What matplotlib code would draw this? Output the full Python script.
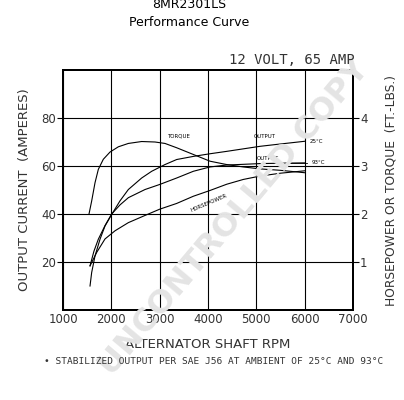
import matplotlib
matplotlib.use("Agg")
import matplotlib.pyplot as plt

# Output current (A) vs rpm
out25_rpm = [1559, 1593, 1662, 1766, 1869, 2007, 2180, 2352, 2628, 2835, 3110, 3352, 3697, 4041, 4387, 5076, 5600, 6000]
out25_amp = [10, 15.6, 22.5, 29.5, 35, 39.8, 45.5, 50.2, 55, 57.8, 60.6, 62.7, 64, 65.1, 66.1, 68.2, 69.4, 70.3]
out93_rpm = [1559, 1640, 1731, 1870, 2007, 2180, 2352, 2697, 3000, 3352, 3697, 4041, 4387, 5076, 5600, 6000]
out93_amp = [18.4, 24.5, 29.5, 35.2, 40, 43.8, 46.8, 50.2, 52.3, 55, 57.8, 59.6, 60.4, 61.0, 61.2, 61.3]
# Horsepower and torque (right axis)
hp_rpm = [1559, 1697, 1869, 2076, 2352, 2697, 3000, 3352, 3697, 4041, 4387, 4731, 5076, 5500, 6000]
hp_val = [0.92, 1.2, 1.48, 1.65, 1.82, 1.97, 2.1, 2.22, 2.37, 2.49, 2.62, 2.72, 2.79, 2.85, 2.9]
tq_rpm = [1538, 1593, 1662, 1731, 1834, 1972, 2145, 2352, 2628, 2903, 3110, 3352, 3697, 4041, 4387, 4731, 5076, 5500, 6000]
tq_val = [2.0, 2.27, 2.65, 2.93, 3.14, 3.29, 3.40, 3.47, 3.51, 3.50, 3.47, 3.38, 3.24, 3.10, 3.03, 2.98, 2.94, 2.91, 2.86]

x_ticks = [1000, 2000, 3000, 4000, 5000, 6000, 7000]
y_ticks = [20, 40, 60, 80]
y2_ticks = [1, 2, 3, 4]

fig = plt.figure(figsize=(4.04, 4.0), dpi=100)
ax = fig.add_axes([63/404, 90/400, 290/404, 240/400])
ax.set_xlim(1000, 7000)
ax.set_ylim(0, 100)
ax2 = ax.twinx()
ax2.set_ylim(0, 5)

fig.text(235/404, 1 - 218/400, "UNCONTROLLED COPY", ha="center", va="center", fontsize=23,
         fontweight="bold", rotation=50, color="#e4e4e4", family="DejaVu Sans", zorder=0)

tf = dict(family="DejaVu Sans", fontsize=8.5, color="#333333")
ax.set_xticks(x_ticks)
ax.set_xticklabels([str(v) for v in x_ticks], **tf)
ax.set_yticks(y_ticks)
ax.set_yticklabels([str(v) for v in y_ticks], **tf)
ax2.set_yticks(y2_ticks)
ax2.set_yticklabels([str(v) for v in y2_ticks], **tf)
ax.tick_params(axis="x", length=0, pad=2)
ax.tick_params(axis="y", length=4, width=0.8, pad=1)
ax2.tick_params(axis="y", length=4, width=0.8, pad=1)
ax.grid(True, color="black", linewidth=0.8)
ax.patch.set_alpha(0)
for s in ax.spines.values():
    s.set_linewidth(1.4)
for s in ax2.spines.values():
    s.set_linewidth(1.4)

lw = 0.8
ax.plot(out25_rpm, out25_amp, color="black", lw=lw)
ax.plot(out93_rpm, out93_amp, color="black", lw=lw)
ax2.plot(hp_rpm, hp_val, color="black", lw=lw)
ax2.plot(tq_rpm, tq_val, color="black", lw=lw)

sf = dict(fontsize=4, color="black", family="DejaVu Sans")
ax.text(3390, 72.6, "TORQUE", ha="center", va="center", **sf)
ax.text(5180, 72.2, "OUTPUT", ha="center", va="center", **sf)
ax.text(6100, 70.3, "25°C", ha="left", va="center", **sf)
ax.text(5230, 63.2, "OUTPUT", ha="center", va="center", **sf)
ax.plot([5650, 6050], [61.3, 61.3], color="black", lw=0.6)
ax.text(6150, 61.5, "93°C", ha="left", va="center", **sf)
ax.text(4020, 44.8, "HORSEPOWER", ha="center", va="center", rotation=23, **sf)

lf = dict(family="DejaVu Sans", color="#333333")
ax.set_ylabel("OUTPUT CURRENT  (AMPERES)", fontsize=9.5, labelpad=7, **lf)
ax2.set_ylabel("HORSEPOWER OR TORQUE  (FT.-LBS.)", fontsize=8.8, labelpad=12, **lf)
ax.set_xlabel("ALTERNATOR SHAFT RPM", fontsize=9.5, labelpad=9, **lf)

fig.text(189/404, 1 - 5/400, "8MR2301LS", ha="center", va="center", fontsize=9, family="DejaVu Sans")
fig.text(189/404, 1 - 23/400, "Performance Curve", ha="center", va="center", fontsize=9, family="DejaVu Sans")
fig.text(355/404, 1 - 60/400, "12 VOLT, 65 AMP", ha="right", va="center", fontsize=10, family="DejaVu Sans Mono", color="#333333")
fig.text(214/404, 1 - 362/400, "• STABILIZED OUTPUT PER SAE J56 AT AMBIENT OF 25°C AND 93°C",
         ha="center", va="center", fontsize=6.8, family="DejaVu Sans Mono", color="#333333")

fig.savefig("out.png", dpi=100)
